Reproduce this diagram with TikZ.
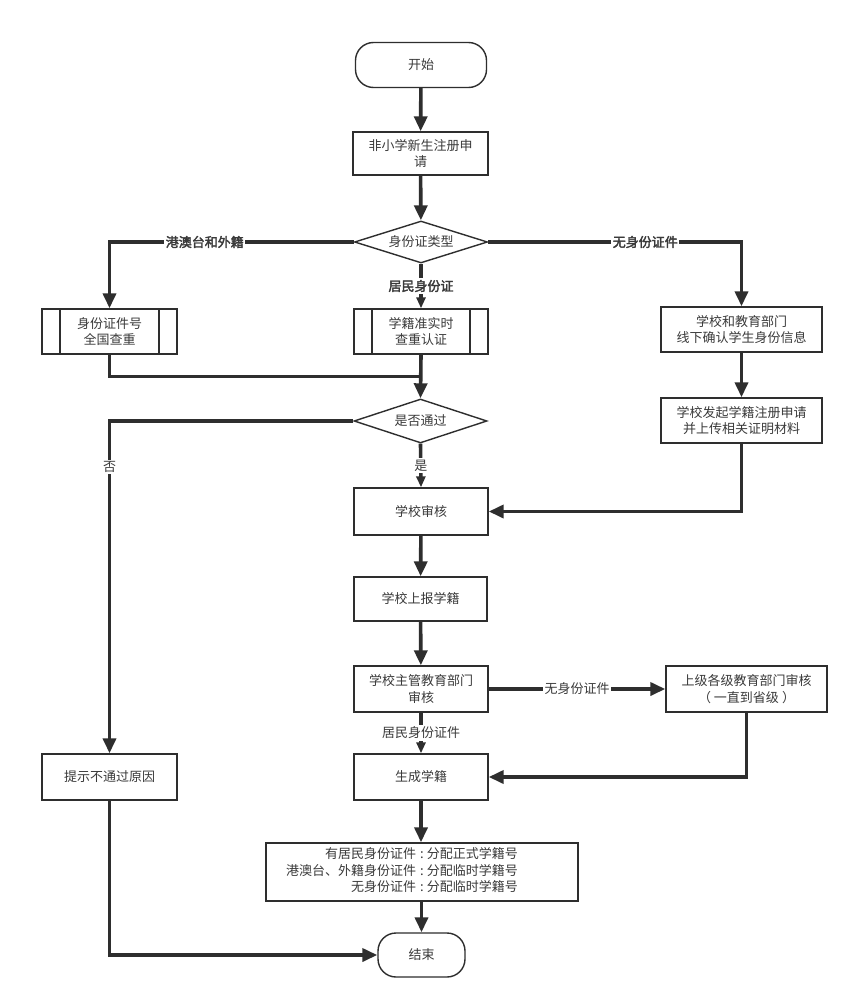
\documentclass[tikz,border=0pt]{standalone}
\usepackage{fontspec}
\setmainfont{Noto Sans CJK SC}[AutoFakeBold=2.5]
\usetikzlibrary{shapes.geometric,arrows.meta,calc}
\definecolor{ln}{HTML}{2E2E2E}
\definecolor{tx}{HTML}{3A3A3A}
\tikzset{
  base/.style={draw=ln, line width=1.4pt, text=tx, font=\fontsize{13}{16.5}\selectfont, align=center, inner sep=2pt, fill=white},
  procbox/.style={base, rectangle},
  termbox/.style={base, rectangle, rounded corners=18pt},
  decbox/.style={base, diamond, aspect=3.2, inner sep=0pt},
  predef/.style={procbox, path picture={
      \draw[draw=ln, line width=1.4pt] ([xshift=18pt]path picture bounding box.north west) -- ([xshift=18pt]path picture bounding box.south west);
      \draw[draw=ln, line width=1.4pt] ([xshift=-18pt]path picture bounding box.north east) -- ([xshift=-18pt]path picture bounding box.south east);
  }},
  conn/.style={draw=ln, line width=3.6pt},
  arr/.style={conn, -{Triangle[length=15pt,width=13pt]}},
  sarr/.style={conn, -{Triangle[length=11pt,width=9pt]}},
  lab/.style={fill=white, text=tx, inner sep=1.5pt, font=\fontsize{13}{16}\selectfont},
  blab/.style={lab, font=\fontsize{13}{16}\selectfont\bfseries}
}
\begin{document}
\begin{tikzpicture}[x=1pt,y=-1pt]
\useasboundingbox (0,0) rectangle (855,1006);
\fill[white] (0,0) rectangle (855,1006);

\node[termbox, minimum width=131pt, minimum height=45pt] (start) at (421,65) {开始};
\node[procbox, minimum width=135pt, minimum height=43pt] (apply) at (420.5,153.5) {非小学新生注册申\\请};
\node[decbox, minimum width=133pt, minimum height=42pt] (idtype) at (421,242) {身份证类型};
\node[predef, minimum width=135pt, minimum height=45pt] (natcheck) at (109.5,331.5) {身份证件号\\全国查重};
\node[predef, minimum width=134pt, minimum height=45pt] (rtcheck) at (421,331.5) {学籍准实时\\查重认证};
\node[procbox, minimum width=161pt, minimum height=45pt] (offline) at (741.5,329.5) {学校和教育部门\\线下确认学生身份信息};
\node[procbox, minimum width=161pt, minimum height=45pt] (upload) at (741.5,420.5) {学校发起学籍注册申请\\并上传相关证明材料};
\node[decbox, minimum width=133pt, minimum height=44pt] (pass) at (420.5,421) {是否通过};
\node[procbox, minimum width=134pt, minimum height=47pt] (audit) at (421,511.5) {学校审核};
\node[procbox, minimum width=133pt, minimum height=44pt] (report) at (420.5,599) {学校上报学籍};
\node[procbox, minimum width=134pt, minimum height=46pt] (dept) at (421,689) {学校主管教育部门\\审核};
\node[procbox, minimum width=161pt, minimum height=46pt] (upper) at (746.5,689) {上级各级教育部门审核\\（\hspace{3pt}一直到省级\hspace{3pt}）};
\node[procbox, minimum width=134pt, minimum height=46pt] (gen) at (421,777) {生成学籍};
\node[procbox, minimum width=135pt, minimum height=46pt] (fail) at (109.5,777) {提示不通过原因};
\node[procbox, minimum width=312pt, minimum height=58pt] (result) at (422,872) {%
  \begin{tabular}{@{}r@{}l@{}}
  有居民身份证件 & \kern4pt:\kern3pt 分配正式学籍号\\
  港澳台、外籍身份证件 & \kern4pt:\kern3pt 分配临时学籍号\\
  无身份证件 & \kern4pt:\kern3pt 分配临时学籍号
  \end{tabular}\hspace{40pt}};
\node[termbox, minimum width=87pt, minimum height=44pt] (end) at (421.5,955) {结束};

\coordinate (join) at ($(rtcheck.south)!0.5!(pass.north)$);

\draw[arr] (start) -- (apply);
\draw[arr] (apply) -- (idtype);
\draw[arr] (idtype.west) -| node[blab, pos=0.305] {港澳台和外籍} (natcheck.north);
\draw[sarr] (idtype.south) -- node[blab] {居民身份证} (rtcheck.north);
\draw[arr] (idtype.east) -| node[blab, pos=0.31] {无身份证件} (offline.north);
\draw[arr] (offline) -- (upload);
\draw[arr] (upload.south) |- (audit.east);
\draw[conn] (natcheck.south) |- (join);
\draw[arr] (rtcheck.south) -- (pass.north);
\draw[arr] (pass.west) -| node[lab, pos=0.569] {否} (fail.north);
\draw[sarr] (pass.south) -- node[lab] {是} (audit.north);
\draw[arr] (audit) -- (report);
\draw[arr] (report) -- (dept);
\draw[arr] (dept.east) -- node[lab] {无身份证件} (upper.west);
\draw[sarr] (dept.south) -- node[lab] {居民身份证件} (gen.north);
\draw[arr] (upper.south) |- (gen.east);
\draw[arr] (gen.south) -- (gen.south |- result.north);
\draw[arr] (end.north |- result.south) -- (end.north);
\draw[arr] (fail.south) |- (end.west);
\end{tikzpicture}
\end{document}
